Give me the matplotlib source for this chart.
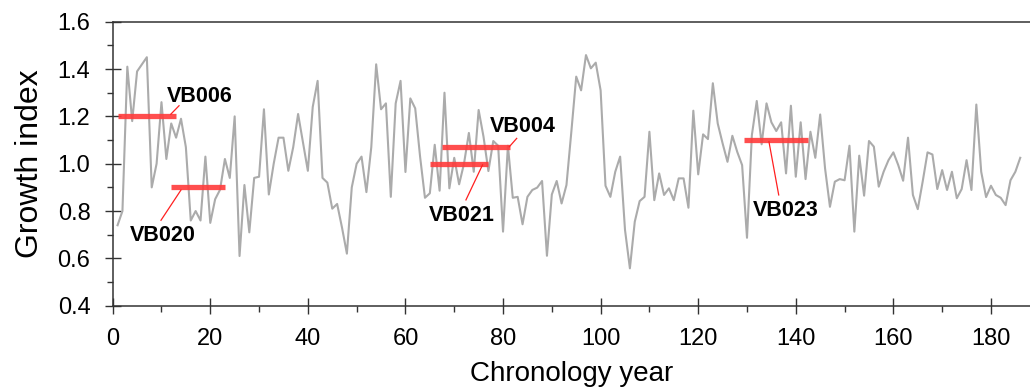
import numpy as np
import matplotlib.pyplot as plt
from matplotlib.ticker import MultipleLocator

plt.rcParams['font.family'] = ['Liberation Sans', 'DejaVu Sans']

# growth index per chronology year (years 1..186)
growth = [0.74, 0.80, 1.41, 1.18, 1.39, 1.42, 1.45, 0.90, 1.00, 1.26,
          1.02, 1.17, 1.11, 1.19, 1.07, 0.76, 0.80, 0.76, 1.03, 0.75,
          0.85, 0.89, 1.02, 0.94, 1.20, 0.61, 0.91, 0.71, 0.94, 0.945,
          1.23, 0.87, 1.00, 1.11, 1.11, 0.97, 1.07, 1.21, 1.09, 0.97,
          1.24, 1.35, 0.94, 0.92, 0.81, 0.83, 0.73, 0.62, 0.90, 1.00,
          1.03, 0.88, 1.07, 1.42, 1.23, 1.255, 0.86, 1.255, 1.35, 0.965,
          1.276, 1.234, 1.03, 0.856, 0.875, 1.08, 0.886, 1.30, 0.896, 1.025,
          0.913, 1.00, 1.13, 0.966, 1.227, 1.114, 0.969, 1.096, 1.076, 0.713,
          1.076, 0.856, 0.86, 0.744, 0.86, 0.889, 0.899, 0.927, 0.611, 0.87,
          0.927, 0.832, 0.91, 1.135, 1.368, 1.31, 1.459, 1.403, 1.427, 1.31,
          0.907, 0.86, 0.966, 1.03, 0.72, 0.558, 0.755, 0.842, 0.86, 1.135,
          0.846, 0.959, 0.868, 0.896, 0.846, 0.938, 0.938, 0.814, 1.224, 0.955,
          1.124, 1.104, 1.34, 1.17, 1.086, 1.008, 1.118, 1.05, 0.994, 0.687,
          1.121, 1.265, 1.082, 1.255, 1.175, 1.138, 1.175, 0.959, 1.245, 0.945,
          1.175, 0.935, 1.135, 1.025, 1.208, 0.98, 0.818, 0.924, 0.935, 0.93,
          1.076, 0.713, 1.034, 0.865, 1.096, 1.072, 0.903, 0.966, 1.015, 1.048,
          0.994, 0.928, 1.11, 0.868, 0.808, 0.924, 1.048, 1.039, 0.893, 0.973,
          0.889, 0.966, 0.854, 0.893, 1.015, 0.889, 1.25, 0.966, 0.859, 0.907,
          0.868, 0.856, 0.825, 0.93, 0.966, 1.025]
years = np.arange(1, len(growth) + 1)

# sample spans placed on the chronology
samples = ['VB006', 'VB020', 'VB021', 'VB004', 'VB023']
span_start = [1, 12, 65, 67.4, 129.4]
span_end = [13, 23, 77, 81.4, 142.5]
span_level = [1.2, 0.9, 1.0, 1.07, 1.1]
label_xy = [(17.9, 1.285), (10.2, 0.697), (71.5, 0.783), (84.0, 1.159), (137.9, 0.802)]
leader_from = [(11.9, 1.209), (14.0, 0.889), (75.8, 0.995), (81.3, 1.072), (134.5, 1.093)]
leader_to = [(13.6, 1.245), (9.9, 0.761), (72.4, 0.847), (82.8, 1.107), (136.5, 0.868)]

fig = plt.figure(figsize=(10.30, 3.89), dpi=100)
ax = fig.add_axes([0.1094, 0.2141, 0.8906, 0.7301])

ax.plot(years, growth, color='#ababab', lw=1.5, zorder=2)

for i in range(len(samples)):
    ax.plot([span_start[i], span_end[i]], [span_level[i], span_level[i]],
            color='#ff3b3b', lw=3.8, alpha=0.9, solid_capstyle='butt', zorder=3)
    ax.plot([leader_from[i][0], leader_to[i][0]], [leader_from[i][1], leader_to[i][1]],
            color='#ff2020', lw=0.9, zorder=3)
    ax.text(label_xy[i][0], label_xy[i][1], samples[i], fontsize=15.5,
            fontweight='bold', ha='center', va='center', zorder=4)

ax.set_xlim(0, 188)
ax.set_ylim(0.4, 1.6)
ax.xaxis.set_major_locator(MultipleLocator(20))
ax.xaxis.set_minor_locator(MultipleLocator(10))
ax.yaxis.set_major_locator(MultipleLocator(0.2))
ax.yaxis.set_minor_locator(MultipleLocator(0.1))
ax.yaxis.set_major_formatter(plt.FuncFormatter(lambda v, p: f'{v:.1f}'))

ax.tick_params(which='major', direction='inout', length=12, width=1.0,
               color='#333333', labelsize=17, pad=10)
ax.tick_params(which='minor', direction='out', length=4.3, width=1.0, color='#333333')

ax.spines['right'].set_visible(False)
for s in ['left', 'top', 'bottom']:
    ax.spines[s].set_linewidth(1.1)
    ax.spines[s].set_color('#333333')

ax.set_xlabel('Chronology year', fontsize=20, labelpad=8)
ax.set_ylabel('Growth index', fontsize=23, labelpad=9)

plt.savefig('out.png', dpi=100)
